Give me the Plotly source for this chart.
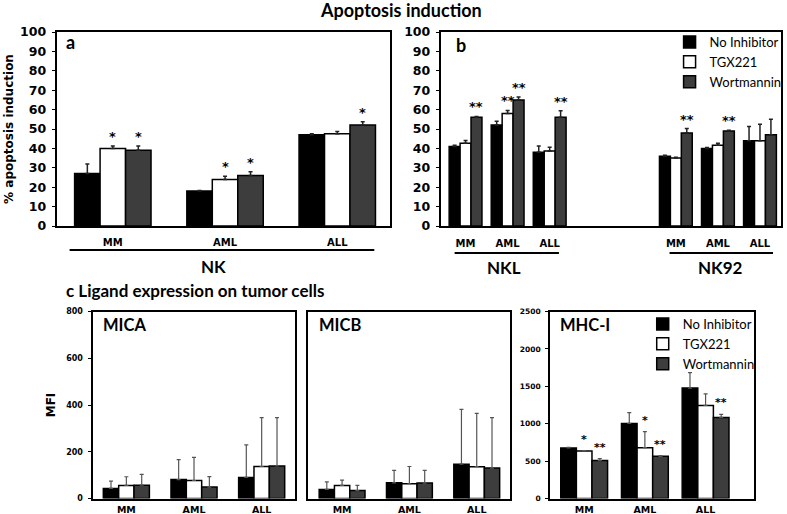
import plotly.graph_objects as go

W, H = 787, 514

series = ["No Inhibitor", "TGX221", "Wortmannin"]
colors = ["#000000", "#ffffff", "#3d3d3d"]

# ---- Panel a: NK ----
a_cats = ["MM", "AML", "ALL"]
a_no = [27, 18, 47]
a_tgx = [40, 24, 47.5]
a_wort = [39, 26, 52]
a_no_err = [5, 0.3, 0.6]
a_tgx_err = [1.3, 1.6, 1.2]
a_wort_err = [2.2, 2.0, 1.8]
a_no_sig = ["", "", ""]
a_tgx_sig = ["*", "*", ""]
a_wort_sig = ["*", "*", "*"]

# ---- Panel b: NKL / NK92 ----
b_cats = ["MM", "AML", "ALL", "MM", "AML", "ALL"]
b_no = [41, 52, 38, 36, 40, 44]
b_tgx = [42.7, 58, 38.7, 35, 41.6, 44]
b_wort = [56, 65, 56, 48, 49, 47]
b_no_err = [0.6, 2.0, 3.3, 0.5, 0.5, 7.3]
b_tgx_err = [1.4, 1.6, 1.9, 0.5, 1.1, 8.5]
b_wort_err = [0.5, 1.5, 3.4, 2.2, 0.4, 8.0]
b_no_sig = ["", "", "", "", "", ""]
b_tgx_sig = ["", "**", "", "", "", ""]
b_wort_sig = ["**", "**", "**", "**", "**", ""]

# ---- Panel c: ligand expression ----
c_cats = ["MM", "AML", "ALL"]
mica_no = [43, 81, 90]
mica_tgx = [56, 77, 137]
mica_wort = [57, 49, 139]
mica_no_err = [31, 85, 139]
mica_tgx_err = [37, 99, 209]
mica_wort_err = [46, 45, 207]

micb_no = [39, 67, 147]
micb_tgx = [56, 63, 136]
micb_wort = [34, 66, 130]
micb_no_err = [32, 53, 234]
micb_tgx_err = [23, 74, 228]
micb_wort_err = [22, 54, 216]

mhc_no = [676, 1004, 1476]
mhc_tgx = [636, 680, 1244]
mhc_wort = [507, 564, 1084]
mhc_no_err = [8, 143, 208]
mhc_tgx_err = [4, 213, 156]
mhc_wort_err = [26, 9, 40]
mhc_no_sig = ["", "", ""]
mhc_tgx_sig = ["*", "*", ""]
mhc_wort_sig = ["**", "**", "**"]

# ---------------------------------------------------------------
fig = go.Figure()
annotations = []
shapes = []

TICKFONT = "DejaVu Sans"
LABFONT = "Lato"


def px_x(p):
    return p / W


def px_y(p):
    return 1 - p / H


def add_panel(idx, slots, vals, errs, sigs, width, err_color, err_thick,
              legend=None, star_size=13, star_shift=0):
    xa = "x" if idx == 1 else f"x{idx}"
    ya = "y" if idx == 1 else f"y{idx}"
    for k in range(3):
        off = -1.5 * width + k * width
        fig.add_trace(go.Bar(
            x=slots, y=vals[k], name=series[k],
            width=width, offset=off,
            marker=dict(color=colors[k], line=dict(color="#000000", width=1.5)),
            error_y=dict(type="data", array=errs[k], arrayminus=[0] * len(slots),
                         symmetric=False, color=err_color,
                         thickness=err_thick, width=2),
            xaxis=xa, yaxis=ya,
            showlegend=legend is not None,
            legend=legend if legend else "legend",
            hoverinfo="skip",
        ))
        if sigs is not None:
            for i, s in enumerate(sigs[k]):
                if s:
                    annotations.append(dict(
                        x=slots[i] + off + width / 2, y=vals[k][i] + errs[k][i],
                        xref=xa, yref=ya, text=f"<b>{s}</b>", showarrow=False,
                        yanchor="bottom", yshift=star_shift,
                        font=dict(family=TICKFONT, size=star_size, color="#000000")))


a_slots = [0, 1, 2]
b_slots = [0, 1, 2, 5, 6, 7]
c_slots = [0, 1, 2]

add_panel(1, a_slots, [a_no, a_tgx, a_wort], [a_no_err, a_tgx_err, a_wort_err],
          [a_no_sig, a_tgx_sig, a_wort_sig], 0.227, "#222222", 1.5)
add_panel(2, b_slots, [b_no, b_tgx, b_wort], [b_no_err, b_tgx_err, b_wort_err],
          [b_no_sig, b_tgx_sig, b_wort_sig], 0.26, "#222222", 1.5, legend="legend")
add_panel(3, c_slots, [mica_no, mica_tgx, mica_wort],
          [mica_no_err, mica_tgx_err, mica_wort_err], None, 0.227, "#555555", 1.2)
add_panel(4, c_slots, [micb_no, micb_tgx, micb_wort],
          [micb_no_err, micb_tgx_err, micb_wort_err], None, 0.227, "#555555", 1.2)
add_panel(5, c_slots, [mhc_no, mhc_tgx, mhc_wort],
          [mhc_no_err, mhc_tgx_err, mhc_wort_err],
          [mhc_no_sig, mhc_tgx_sig, mhc_wort_sig], 0.257, "#555555", 1.2,
          legend="legend2", star_size=11, star_shift=3)


def xaxis(dom, rng, tickvals, ticktext, fsize, standoff, anchor):
    return dict(domain=dom, range=rng, tickvals=tickvals, ticktext=ticktext,
                anchor=anchor, automargin=False,
                showline=True, mirror=True, linecolor="#000", linewidth=2,
                ticks="", showgrid=False, zeroline=False, fixedrange=True,
                ticklabelstandoff=standoff,
                tickfont=dict(family=TICKFONT, size=fsize, color="#000", weight="bold"))


def yaxis(dom, rng, dtick, fsize, anchor, show=True, title=None, tsize=12, tstand=6):
    d = dict(domain=dom, range=rng, dtick=dtick, anchor=anchor, automargin=False,
             showline=True, mirror=True, linecolor="#000", linewidth=2,
             ticks="outside" if show else "", ticklen=3, tickwidth=1, tickcolor="#000",
             showticklabels=show, showgrid=False, zeroline=False, fixedrange=True,
             ticklabelstandoff=3,
             tickfont=dict(family=TICKFONT, size=fsize, color="#000", weight="bold"))
    if title:
        d["title"] = dict(text=title, standoff=tstand,
                          font=dict(family=TICKFONT, size=tsize, color="#000", weight="bold"))
    return d


top_dom = [px_y(226), px_y(32)]
bot_dom = [px_y(498.5), px_y(311.5)]

fig.update_layout(
    template="none",
    width=W, height=H, margin=dict(l=0, r=0, t=0, b=0, pad=0), autosize=False,
    paper_bgcolor="white", plot_bgcolor="white", barmode="overlay",
    xaxis=xaxis([px_x(57), px_x(392)], [-0.5, 2.47], a_slots, a_cats, 10, 6, "y"),
    yaxis=yaxis(top_dom, [0, 100], 10, 12.5, "x", title="% apoptosis induction", tsize=12, tstand=4),
    xaxis2=xaxis([px_x(443), px_x(785)], [-0.59, 7.5], b_slots, b_cats, 10, 7, "y2"),
    yaxis2=yaxis(top_dom, [0, 100], 10, 12.5, "x2"),
    xaxis3=xaxis([px_x(93), px_x(297)], [-0.5, 2.5], c_slots, c_cats, 9.5, 1, "y3"),
    yaxis3=yaxis(bot_dom, [0, 800], 200, 8, "x3", title="MFI", tsize=12, tstand=8),
    xaxis4=xaxis([px_x(310), px_x(513)], [-0.5, 2.5], c_slots, c_cats, 9.5, 1, "y4"),
    yaxis4=yaxis(bot_dom, [0, 800], 200, 8, "x4", show=False),
    xaxis5=xaxis([px_x(553), px_x(758)], [-0.56, 2.8], c_slots, c_cats, 9.5, 1, "y5"),
    yaxis5=yaxis(bot_dom, [0, 2500], 500, 7.5, "x5"),
    legend=dict(x=px_x(673), y=px_y(27), xanchor="left", yanchor="top",
                bgcolor="rgba(0,0,0,0)", itemwidth=30, tracegroupgap=0, borderwidth=0,
                font=dict(family=LABFONT, size=13, color="#000")),
    legend2=dict(x=px_x(646), y=px_y(309), xanchor="left", yanchor="top",
                 bgcolor="rgba(0,0,0,0)", itemwidth=30, tracegroupgap=0, borderwidth=0,
                 font=dict(family=LABFONT, size=13, color="#000")),
)

# group underlines and labels
shapes.append(dict(type="line", xref="x", yref="paper", x0=-0.385, x1=2.33,
                   y0=px_y(250), y1=px_y(250), line=dict(color="#000", width=2)))
shapes.append(dict(type="line", xref="x2", yref="paper", x0=-0.26, x1=2.22,
                   y0=px_y(253), y1=px_y(253), line=dict(color="#000", width=2)))
shapes.append(dict(type="line", xref="x2", yref="paper", x0=4.85, x1=7.31,
                   y0=px_y(253), y1=px_y(253), line=dict(color="#000", width=2)))

lab = dict(family=LABFONT, color="#000", size=17)
annotations += [
    dict(x=0.9, y=px_y(266), xref="x", yref="paper", text="<b>NK</b>",
         showarrow=False, font=lab, yanchor="middle"),
    dict(x=0.92, y=px_y(267), xref="x2", yref="paper", text="<b>NKL</b>",
         showarrow=False, font=lab, yanchor="middle"),
    dict(x=6.05, y=px_y(267), xref="x2", yref="paper", text="<b>NK92</b>",
         showarrow=False, font=lab, yanchor="middle"),
    dict(x=px_x(403), y=px_y(10), xref="paper", yref="paper",
         text="<b>Apoptosis induction</b>", showarrow=False,
         font=dict(family=LABFONT, size=18, color="#000"), yanchor="middle"),
    dict(x=px_x(64), y=px_y(290), xref="paper", yref="paper", xanchor="left",
         text="<b>c Ligand expression on tumor cells</b>", showarrow=False,
         font=dict(family=LABFONT, size=17, color="#000"), yanchor="middle"),
    dict(x=px_x(64), y=px_y(42), xref="paper", yref="paper", xanchor="left",
         text="<b>a</b>", showarrow=False,
         font=dict(family=LABFONT, size=18, color="#000"), yanchor="middle"),
    dict(x=px_x(456), y=px_y(45), xref="paper", yref="paper", xanchor="left",
         text="<b>b</b>", showarrow=False,
         font=dict(family=LABFONT, size=18, color="#000"), yanchor="middle"),
    dict(x=px_x(102), y=px_y(325), xref="paper", yref="paper", xanchor="left",
         text="<b>MICA</b>", showarrow=False,
         font=dict(family=LABFONT, size=16.5, color="#000"), yanchor="middle"),
    dict(x=px_x(319), y=px_y(325), xref="paper", yref="paper", xanchor="left",
         text="<b>MICB</b>", showarrow=False,
         font=dict(family=LABFONT, size=16.5, color="#000"), yanchor="middle"),
    dict(x=px_x(561), y=px_y(325), xref="paper", yref="paper", xanchor="left",
         text="<b>MHC-I</b>", showarrow=False,
         font=dict(family=LABFONT, size=16.5, color="#000"), yanchor="middle"),
]

fig.update_layout(annotations=annotations, shapes=shapes)
fig.write_html("out.html", config={"displayModeBar": False},
               post_script="document.body.style.margin='0';document.body.style.overflow='hidden';")
